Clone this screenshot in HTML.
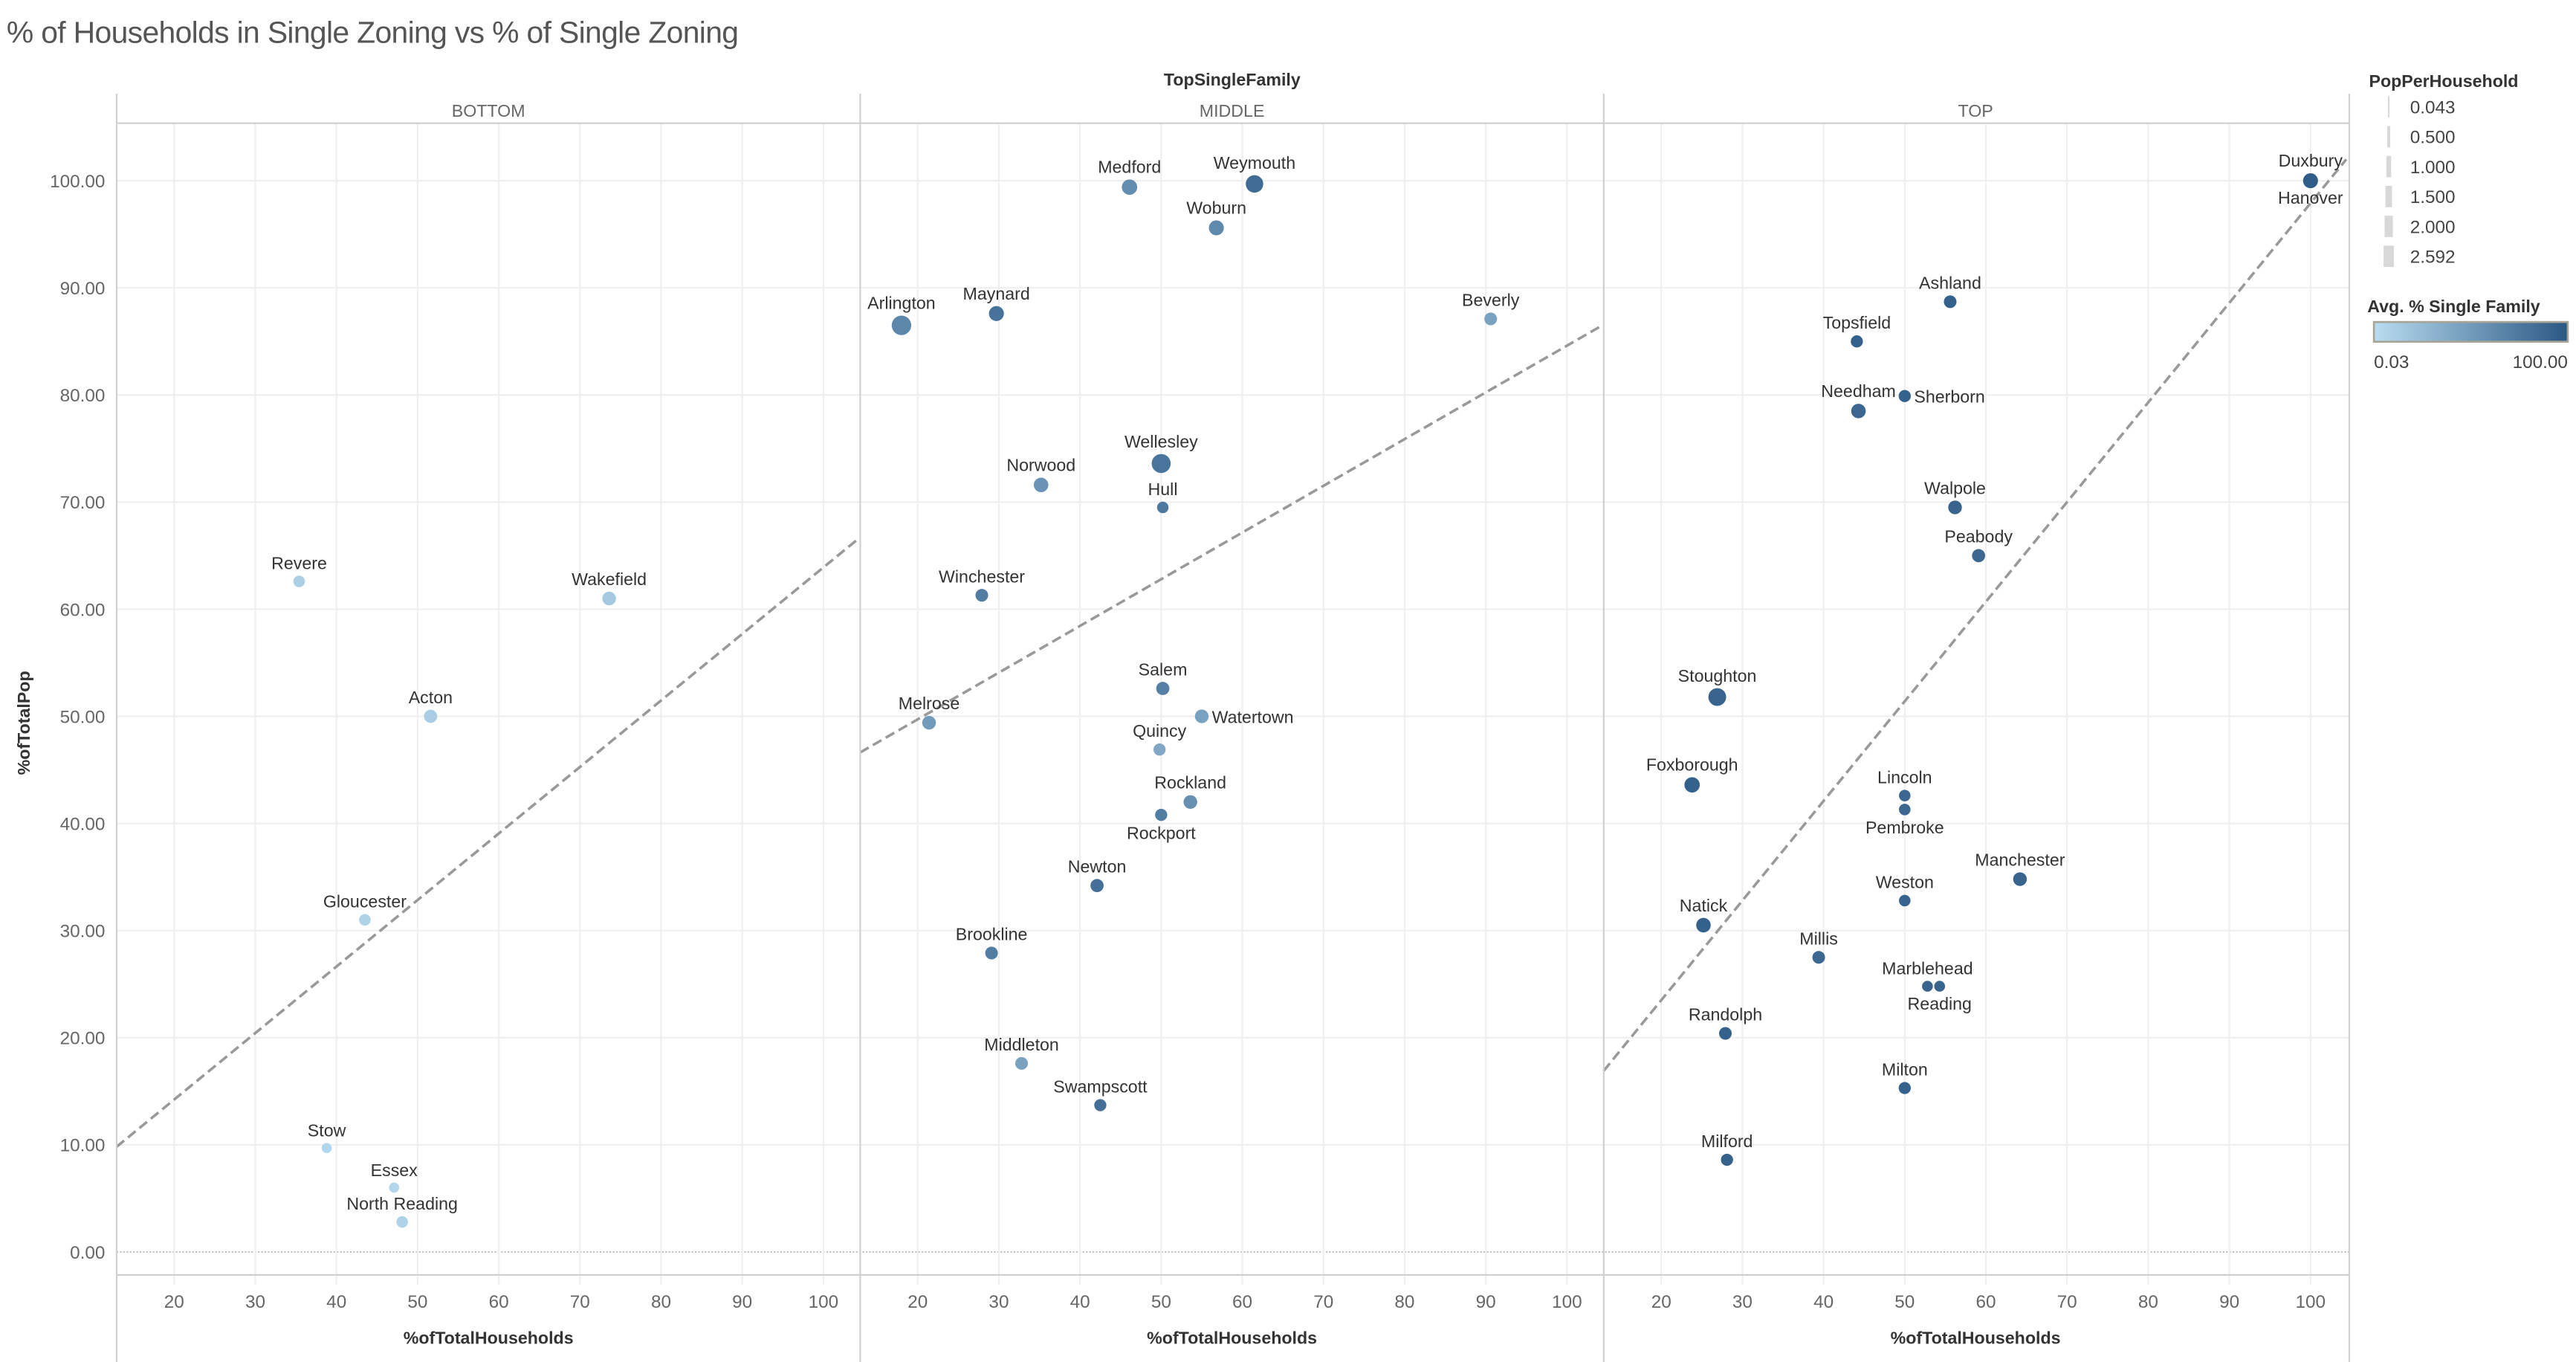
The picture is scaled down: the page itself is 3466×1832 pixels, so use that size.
<!DOCTYPE html>
<html><head><meta charset="utf-8"><style>
html,body{margin:0;padding:0;background:#fff;}
svg{display:block;font-family:"Liberation Sans",sans-serif;}
</style></head><body>
<svg id="chart" width="3466" height="1832" viewBox="0 0 1568 829" preserveAspectRatio="none" xmlns="http://www.w3.org/2000/svg">
<text x="4" y="26" font-size="18.5" fill="#555" font-weight="300" style="letter-spacing:-0.3px">% of Households in Single Zoning vs % of Single Zoning</text>
<text x="750" y="52" font-size="10.5" font-weight="bold" fill="#333" text-anchor="middle">TopSingleFamily</text>
<text transform="translate(18,440) rotate(-90)" font-size="10.5" font-weight="bold" fill="#333" text-anchor="middle">%ofTotalPop</text>
<g id="grid"></g>
<g id="marks"></g>
<g id="legend">
<text x="1442" y="53" font-size="10.5" font-weight="bold" fill="#333">PopPerHousehold</text>
<g id="sizeLegend"></g>
<text x="1441" y="190" font-size="10.5" font-weight="bold" fill="#333">Avg. % Single Family</text>
<defs><linearGradient id="grad" x1="0" x2="1"><stop offset="0" stop-color="#b9ddf1"/><stop offset="1" stop-color="#2a5783"/></linearGradient></defs>
<rect x="1445" y="196" width="118" height="12" fill="url(#grad)" stroke="#a9a596" stroke-width="1.2"/>
<text x="1445" y="224" font-size="11" fill="#444">0.03</text>
<text x="1563" y="224" font-size="11" fill="#444" text-anchor="end">100.00</text>
</g>
</svg>
<script>
const panels = ["BOTTOM","MIDDLE","TOP"];
const xTicks = [20,30,40,50,60,70,80,90,100];
const yTicks = [0,10,20,30,40,50,60,70,80,90,100];
const names = ["Revere","Wakefield","Acton","Gloucester","Stow","Essex","North Reading",
"Medford","Weymouth","Woburn","Arlington","Maynard","Beverly","Wellesley","Norwood","Hull","Winchester","Salem","Watertown","Melrose","Quincy","Rockland","Rockport","Newton","Brookline","Middleton","Swampscott",
"Duxbury","Hanover","Ashland","Topsfield","Sherborn","Needham","Walpole","Peabody","Stoughton","Foxborough","Lincoln","Pembroke","Manchester","Weston","Natick","Millis","Marblehead","Reading","Randolph","Milton","Milford"];
const panelOf = [0,0,0,0,0,0,0, 1,1,1,1,1,1,1,1,1,1,1,1,1,1,1,1,1,1,1,1, 2,2,2,2,2,2,2,2,2,2,2,2,2,2,2,2,2,2,2,2,2];
const households = [35.4,73.6,51.6,43.5,38.8,47.1,48.1,
46.1,61.5,56.8,18.0,29.7,90.6,50.0,35.2,50.2,27.9,50.2,55.0,21.4,49.8,53.6,50.0,42.1,29.1,32.8,42.5,
100,100,55.6,44.1,50.0,44.3,56.2,59.1,26.9,23.8,50.0,50.0,64.2,50.0,25.2,39.4,52.8,54.3,27.9,50.0,28.1];
const pop = [62.6,61.0,50.0,31.0,9.7,6.0,2.8,
99.4,99.7,95.6,86.5,87.6,87.1,73.6,71.6,69.5,61.3,52.6,50.0,49.4,46.9,42.0,40.8,34.2,27.9,17.6,13.7,
100,100,88.7,85.0,79.9,78.5,69.5,65.0,51.8,43.6,42.6,41.3,34.8,32.8,30.5,27.5,24.8,24.8,20.4,15.3,8.6];
const popPerHH = [0.5,0.9,0.8,0.5,0.3,0.3,0.5,
1.3,1.9,1.2,2.59,1.2,0.7,2.4,1.1,0.5,0.7,0.8,0.9,0.9,0.6,0.9,0.6,0.8,0.7,0.7,0.6,
1.2,0.3,0.7,0.6,0.6,1.1,0.9,0.8,2.0,1.3,0.5,0.5,0.9,0.5,1.1,0.7,0.4,0.4,0.7,0.6,0.6];
const singleFam = [10,15,12,8,5,5,8,
60,85,62,65,80,45,78,55,75,72,70,45,50,40,58,72,82,72,45,82,
95,95,92,92,92,88,90,88,90,92,88,88,90,90,92,88,90,90,92,92,92];
const labelPos = ["a","a","a","a","a","a","a",
"a","a","a","a","a","a","a","a","a","a","a","r","a","a","a","b","a","a","a","a",
"a","b","a","a","r","a","a","a","a","a","a","b","a","a","a","a","a","b","a","a","a"];
const trendSlope = [0.621,0.436,0.930];
const trendIntercept = [1.8,41.0,4.9];
const sizeLegendVals = [0.043,0.5,1.0,1.5,2.0,2.592];

const NS="http://www.w3.org/2000/svg";
const grid=document.getElementById('grid'), marks=document.getElementById('marks');
const PW=452.6, X0=71, TOP=75, BOT=776;
function sx(p,v){return X0+p*PW+106-X0+(v-20)*4.94;}
function sy(v){return 762-v*6.52;}
function el(tag,attrs,parent){const e=document.createElementNS(NS,tag);for(const k in attrs)e.setAttribute(k,attrs[k]);parent.appendChild(e);return e;}
function color(v){const t=Math.max(0,Math.min(1,v/100));const a=[185,221,241],b=[42,87,131];return `rgb(${a.map((c,i)=>Math.round(c+(b[i]-c)*t)).join(',')})`;}
function rad(v){return 1.6+Math.sqrt(v)*2.7;}

// y grid and ticks
yTicks.forEach(t=>{
  const y=sy(t);
  if(t===0){
    const l=el('line',{x1:X0,x2:1430,y1:y,y2:y,stroke:'#bbb','stroke-width':0.8,'stroke-dasharray':'1,1'},grid);
    
    
  } else {
    const l=el('line',{x1:X0,x2:1430,y1:y,y2:y,stroke:'#efefef','stroke-width':1},grid);
    
    
  }
  const tx=el('text',{x:64,y:y+4,'font-size':11,fill:'#666','text-anchor':'end'},grid);
  tx.textContent=t.toFixed(2);
  
  
});
panels.forEach((p,pi)=>{
  xTicks.forEach(t=>{
    const x=sx(pi,t);
    const l=el('line',{x1:x,x2:x,y1:TOP,y2:BOT+6,stroke:'#efefef','stroke-width':1},grid);
    
    
    const tx=el('text',{x:x,y:796,'font-size':11,fill:'#666','text-anchor':'middle'},grid);
    tx.textContent=t;
    
    
  });
  const h=el('text',{x:X0+pi*PW+PW/2,y:71,'font-size':10.5,fill:'#666','text-anchor':'middle'},grid);
  h.textContent=p;
  
  
  const at=el('text',{x:X0+pi*PW+PW/2,y:818,'font-size':10.5,'font-weight':'bold',fill:'#333','text-anchor':'middle'},grid);
  at.textContent='%ofTotalHouseholds';
  
  
  // trend line
  const xa=12.9, xb=104.4;
  let y1=trendIntercept[pi]+trendSlope[pi]*xa, y2=trendIntercept[pi]+trendSlope[pi]*xb;
  let xe=xb;
  const ymax=(762-TOP)/6.52;
  if(y2>ymax){xe=(ymax-trendIntercept[pi])/trendSlope[pi];y2=ymax;}
  const tl=el('line',{x1:sx(pi,xa),y1:sy(y1),x2:sx(pi,xe),y2:sy(y2),stroke:'#999','stroke-width':1.6,'stroke-dasharray':'6,3'},grid);
  
  
});
// frame lines
[X0,X0+PW,X0+2*PW,1430].forEach(x=>{
  const l=el('line',{x1:x,x2:x,y1:57,y2:829,stroke:'#d0d0d0','stroke-width':1},grid);
  
  
});
[TOP,BOT].forEach(y=>{
  const l=el('line',{x1:X0,x2:1430,y1:y,y2:y,stroke:'#d0d0d0','stroke-width':1},grid);
  
  
});
// points
names.forEach((n,i)=>{
  const p=panelOf[i], cx=sx(p,households[i]), cy=sy(pop[i]), r=rad(popPerHH[i]);
  const c=el('circle',{cx:cx,cy:cy,r:r,fill:color(singleFam[i])},marks);
  
  
  const lp=labelPos[i];
  let lx=cx, ly=cy-r-4, anc='middle';
  if(lp==='b'){ly=cy+r+11;}
  if(lp==='r'){lx=cx+r+2;ly=cy+4;anc='start';}
  const t=el('text',{x:lx,y:ly,'font-size':10.5,fill:'#333','text-anchor':anc},marks);
  t.textContent=n;
  
  
});
// size legend
const sl=document.getElementById('sizeLegend');
sizeLegendVals.forEach((v,i)=>{
  const y=65+i*18.2, w=0.8+v*2.1;
  const r=el('rect',{x:1454-w/2,y:y-6.5,width:w,height:13,fill:'#d8d8d8'},sl);
  
  
  const t=el('text',{x:1467,y:y+4,'font-size':11,fill:'#444'},sl);
  t.textContent=v.toFixed(3);
  
  
});
</script>
</body></html>
